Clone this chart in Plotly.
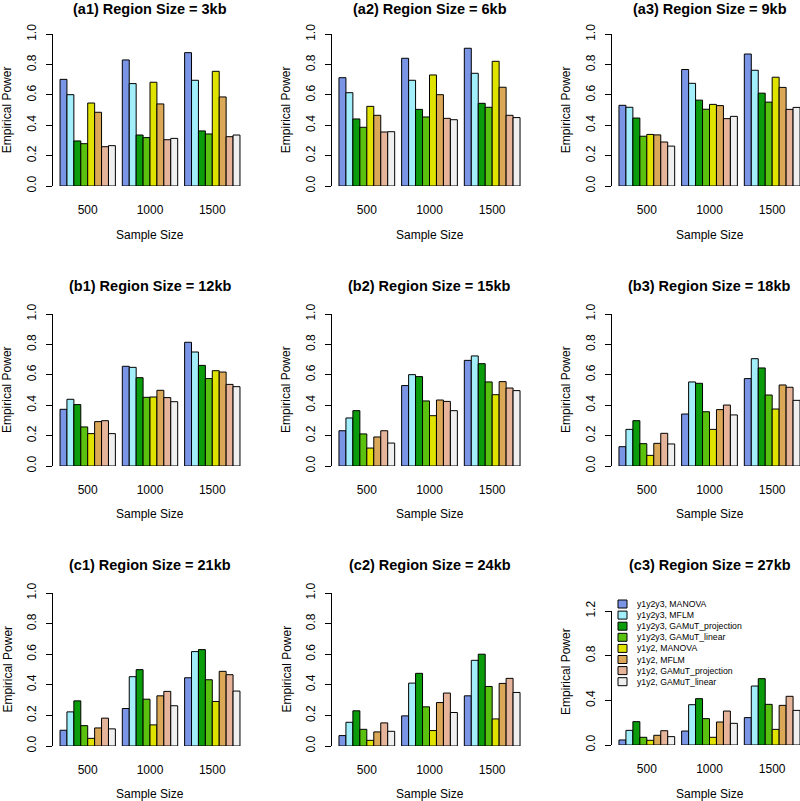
import plotly.graph_objects as go

W, H = 800, 801
FONT = 'Liberation Sans, Arial, Helvetica, sans-serif'

sample_sizes = ['500', '1000', '1500']

methods = ['y1y2y3, MANOVA', 'y1y2y3, MFLM', 'y1y2y3, GAMuT_projection',
           'y1y2y3, GAMuT_linear', 'y1y2, MANOVA', 'y1y2, MFLM',
           'y1y2, GAMuT_projection', 'y1y2, GAMuT_linear']

colors = ['#7B95E6', '#A2EEFB', '#0A9C0A', '#5AC10E',
          '#E0E200', '#DBA858', '#E6B49A', '#EFEFEF']

titles = ['(a1) Region Size = 3kb', '(a2) Region Size = 6kb', '(a3) Region Size = 9kb',
          '(b1) Region Size = 12kb', '(b2) Region Size = 15kb', '(b3) Region Size = 18kb',
          '(c1) Region Size = 21kb', '(c2) Region Size = 24kb', '(c3) Region Size = 27kb']

# empirical power, one list per sample size (500, 1000, 1500), methods in legend order
a1 = [[0.703, 0.602, 0.297, 0.279, 0.547, 0.486, 0.259, 0.266],
      [0.831, 0.675, 0.336, 0.319, 0.684, 0.541, 0.305, 0.314],
      [0.879, 0.697, 0.363, 0.343, 0.756, 0.587, 0.325, 0.336]]
a2 = [[0.714, 0.615, 0.442, 0.387, 0.525, 0.466, 0.356, 0.358],
      [0.842, 0.697, 0.505, 0.455, 0.732, 0.602, 0.446, 0.437],
      [0.908, 0.743, 0.545, 0.519, 0.822, 0.651, 0.466, 0.451]]
a3 = [[0.532, 0.519, 0.448, 0.328, 0.340, 0.337, 0.290, 0.263],
      [0.768, 0.677, 0.566, 0.506, 0.538, 0.530, 0.444, 0.459],
      [0.870, 0.763, 0.612, 0.553, 0.717, 0.650, 0.505, 0.518]]
b1 = [[0.373, 0.439, 0.404, 0.257, 0.213, 0.292, 0.298, 0.213],
      [0.656, 0.649, 0.581, 0.452, 0.454, 0.498, 0.450, 0.423],
      [0.814, 0.750, 0.662, 0.575, 0.627, 0.618, 0.537, 0.522]]
b2 = [[0.232, 0.316, 0.364, 0.211, 0.118, 0.191, 0.232, 0.151],
      [0.529, 0.601, 0.588, 0.428, 0.331, 0.434, 0.425, 0.364],
      [0.695, 0.724, 0.673, 0.553, 0.469, 0.555, 0.513, 0.496]]
b3 = [[0.127, 0.241, 0.298, 0.147, 0.070, 0.149, 0.215, 0.145],
      [0.342, 0.553, 0.544, 0.357, 0.241, 0.371, 0.401, 0.336],
      [0.575, 0.706, 0.645, 0.467, 0.375, 0.533, 0.518, 0.432]]
c1 = [[0.103, 0.223, 0.295, 0.133, 0.050, 0.118, 0.182, 0.112],
      [0.245, 0.453, 0.499, 0.306, 0.138, 0.328, 0.357, 0.263],
      [0.446, 0.617, 0.630, 0.433, 0.291, 0.488, 0.466, 0.359]]
c2 = [[0.068, 0.155, 0.230, 0.109, 0.037, 0.092, 0.151, 0.096],
      [0.197, 0.411, 0.475, 0.256, 0.101, 0.284, 0.346, 0.219],
      [0.328, 0.560, 0.600, 0.389, 0.177, 0.409, 0.442, 0.350]]
c3 = [[0.045, 0.131, 0.209, 0.069, 0.042, 0.087, 0.128, 0.075],
      [0.125, 0.361, 0.415, 0.236, 0.069, 0.206, 0.304, 0.194],
      [0.245, 0.528, 0.594, 0.364, 0.140, 0.355, 0.436, 0.310]]

panels = [a1, a2, a3, b1, b2, b3, c1, c2, c3]

# pixel geometry of the plot regions (left, right) / (top, bottom)
col_px = [(53.1, 246.9), (332.0, 527.0), (612.0, 807.0)]
row_px = [(34.3, 186.0), (314.0, 466.0), (593.0, 746.0)]
c3_px = (611.0, 745.0)
title_px = [9.0, 286.0, 565.0]
xlab_px = [235.0, 514.0, 793.5]


def px_x(p):
    return p / W


def px_y(p):
    return 1 - p / H


fig = go.Figure()
annotations = []
shapes = []

for k, data in enumerate(panels):
    r, c = divmod(k, 3)
    ax = '' if k == 0 else str(k + 1)
    for m, name in enumerate(methods):
        fig.add_trace(go.Bar(
            x=sample_sizes, y=[grp[m] for grp in data], name=name,
            marker=dict(color=colors[m], line=dict(color='black', width=1)),
            xaxis='x' + ax, yaxis='y' + ax, showlegend=False))

    left, right = col_px[c]
    full = 28 / 9
    ppc = (right - left) / full
    x0 = -5 / 9
    x1 = x0 + (min(right, W) - left) / ppc
    top, bot = row_px[r]
    ymax, dtick = 1.0, 0.2
    if k == 8:
        top, bot = c3_px
        ymax, dtick = 1.2, 0.4
    tv = [round(i * dtick, 1) for i in range(int(round(ymax / dtick)) + 1)]

    fig.layout['xaxis' + ax] = dict(
        domain=[px_x(left), px_x(min(right, W))], range=[x0, x1], automargin=False,
        anchor='y' + ax, showline=False, showgrid=False, zeroline=False,
        ticks='outside', ticklen=13, tickcolor='rgba(0,0,0,0)',
        tickfont=dict(size=12, color='black', family=FONT), fixedrange=True)
    fig.layout['yaxis' + ax] = dict(
        domain=[px_y(bot), px_y(top)], range=[0, ymax], automargin=False,
        anchor='x' + ax, showline=True, linecolor='black', linewidth=1,
        showgrid=False, zeroline=False, ticks='outside', ticklen=6,
        tickcolor='black', tickvals=tv, ticktext=['%.1f' % v for v in tv],
        tickangle=-90, ticklabelstandoff=5,
        tickfont=dict(size=12, color='black', family=FONT))

    bar_mid = (left + right) / 2
    annotations.append(dict(
        text='<b>%s</b>' % titles[k], x=px_x(bar_mid), y=px_y(title_px[r]),
        xref='paper', yref='paper', showarrow=False, xanchor='center', yanchor='middle',
        font=dict(size=14.5, color='black', family=FONT)))
    annotations.append(dict(
        text='Sample Size', x=px_x(bar_mid), y=px_y(xlab_px[r]),
        xref='paper', yref='paper', showarrow=False, xanchor='center', yanchor='middle',
        font=dict(size=12, color='black', family=FONT)))
    annotations.append(dict(
        text='Empirical Power', x=px_x(left - 46), y=px_y((top + bot) / 2 - (6 if k == 8 else 0)),
        xref='paper', yref='paper', showarrow=False, xanchor='center', yanchor='middle',
        textangle=-90, font=dict(size=12, color='black', family=FONT)))

# hand-drawn legend inside panel c3
for m, name in enumerate(methods):
    yc = 604 + m * 11.1
    shapes.append(dict(type='rect', xref='paper', yref='paper',
                       x0=px_x(618), x1=px_x(627), y0=px_y(yc + 4), y1=px_y(yc - 4),
                       fillcolor=colors[m], line=dict(color='black', width=1)))
    annotations.append(dict(
        text=name, x=px_x(635), y=px_y(yc), xref='paper', yref='paper',
        showarrow=False, xanchor='left', yanchor='middle',
        font=dict(size=8.7, color='black', family=FONT)))

fig.update_layout(
    width=W, height=H, margin=dict(l=0, r=0, t=0, b=0),
    paper_bgcolor='white', plot_bgcolor='white',
    barmode='group', bargap=1 / 9, bargroupgap=0,
    annotations=annotations, shapes=shapes, showlegend=False,
    hovermode=False, font=dict(family=FONT, color='black'))

fig.write_html('out.html', config={'displayModeBar': False, 'staticPlot': True},
               post_script="document.body.style.margin='0';")
